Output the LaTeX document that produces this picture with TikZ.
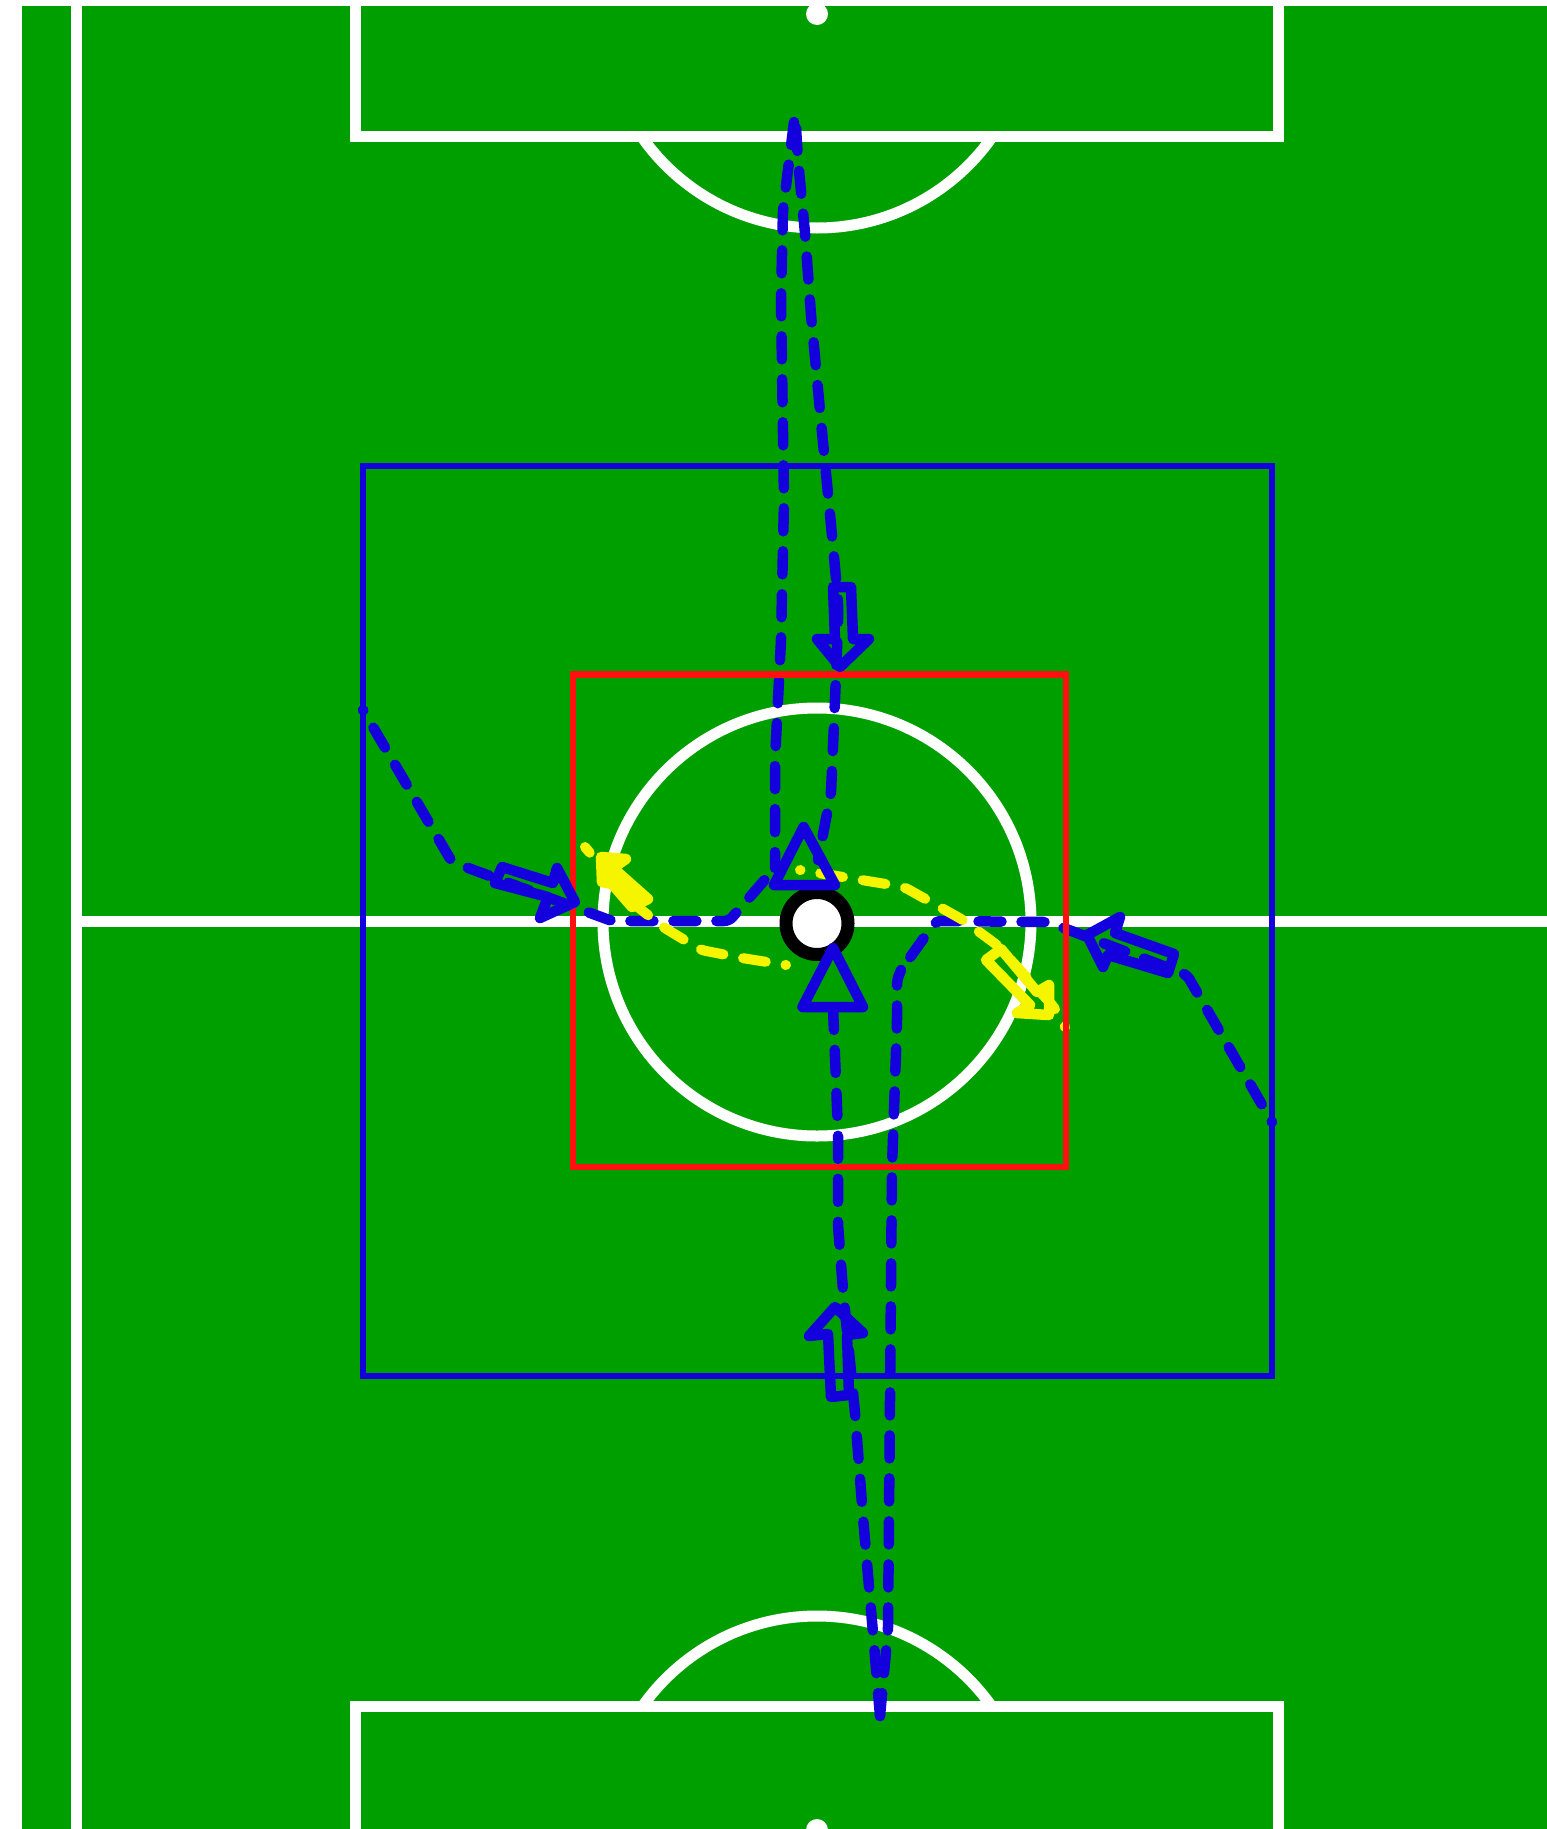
\documentclass[tikz,border=0pt]{standalone}
\definecolor{pitch}{HTML}{009F00}
\definecolor{runblue}{HTML}{1400DC}
\definecolor{runyellow}{HTML}{F5F500}
\definecolor{gridred}{HTML}{FF1010}
\tikzset{
  pitchline/.style={draw=white,line width=11pt,line join=miter},
  run/.style={line width=10.5pt,line cap=round,line join=round,rounded corners=5pt,dash pattern=on 23pt off 20pt},
  fromdot/.style={dash phase=22.5pt},
  bluerun/.style={run,draw=runblue},
  yellowrun/.style={run,fromdot,draw=runyellow,line width=10pt},
  gridbox/.style={line width=6.5pt,line join=miter},
  headtri/.style={draw=runblue,line width=10.5pt,line join=round},
  arrowoutline/.style={line width=10.5pt,line join=round,line cap=round},
}
\begin{document}
\begin{tikzpicture}[x=1pt,y=-1pt]
\useasboundingbox (0,0) rectangle (1547,1829);
\fill[white] (0,0) rectangle (1547,1829);
\begin{scope}
\clip (22,6) rectangle (1547,1829);
\fill[pitch] (22,6) rectangle (1547,1829);
% pitch markings
\draw[pitchline] (76.5,0) -- (76.5,1840);
\draw[pitchline] (76.5,921.5) -- (1550,921.5);
\draw[pitchline] (817,922) circle[radius=214];
\draw[pitchline] (355.5,0) -- (355.5,136) -- (1278,136) -- (1278,0);
\draw[pitchline] (355.5,1840) -- (355.5,1706) -- (1278,1706) -- (1278,1840);
\begin{scope}
\clip (300,136) rectangle (1330,300);
\draw[pitchline] (817,14) circle[radius=214];
\end{scope}
\begin{scope}
\clip (300,1500) rectangle (1330,1706);
\draw[pitchline] (817,1830) circle[radius=214];
\end{scope}
\fill[white] (817,14) circle[radius=11];
\fill[white] (817,1830) circle[radius=11];
% runs
\draw[bluerun,fromdot] (363,710) -- (452,862) -- (612,921) -- (729,921) -- (775,868);
\draw[bluerun] (794,122) -- (783,210) -- (781,300) -- (784,500) -- (781,640) -- (775,760) -- (775,868);
\draw[bluerun] (796,128) -- (798,160) -- (805,233) -- (811,315) -- (822,432) -- (831,525) -- (838,600) -- (838,623) -- (835,700) -- (831,793) -- (818,860);
\draw[bluerun,fromdot] (1272,1122) -- (1187,975) -- (1048,922) -- (936,921) -- (901,970);
\draw[bluerun] (880,1716) -- (888,1630) -- (890,1400) -- (892,1167) -- (897,1023) -- (897,980) -- (901,970);
\draw[bluerun] (880,1716) -- (873,1633) -- (863,1517) -- (855,1413) -- (843,1290) -- (838,1225) -- (838,1132) -- (833,1007);
\draw[yellowrun] (786,965) -- (742,958) -- (701,950) -- (663,927) -- (629,900) -- (585,847);
\draw[yellowrun] (800,870) -- (886,884) -- (904,887) -- (963,920) -- (997,945) -- (1054,1007) -- (1065,1027);
% grid boxes
\draw[gridbox,draw=runblue] (363,466) rectangle (1272,1376);
\draw[gridbox,draw=gridred] (573,674.5) rectangle (1066,1167);
% centre spot
\draw[black,fill=white,line width=13pt] (817,923.5) circle[radius=31];
% triangular heads
\draw[headtri] (803.6,827) -- (835,885) -- (774,885) -- cycle;
\draw[headtri] (833,948) -- (863,1007) -- (802.5,1007) -- cycle;
% block arrows on the runs
\draw[arrowoutline,draw=runblue] (502,867) -- (553,883) -- (557,868) -- (575,902) -- (540,918) -- (548,897) -- (495,883) -- cycle;
\draw[arrowoutline,draw=runblue] (1087,935) -- (1120,917) -- (1115,933) -- (1174,954) -- (1168,973) -- (1108,955) -- (1103,967) -- cycle;
\draw[arrowoutline,draw=runblue] (833,587) -- (851,587) -- (853,639) -- (869,639) -- (840,667) -- (817,639) -- (835,639) -- cycle;
\draw[arrowoutline,draw=runblue] (835,1307) -- (863,1333) -- (847,1335) -- (849,1395) -- (831,1397) -- (828,1334) -- (809,1336) -- cycle;
\draw[arrowoutline,draw=runyellow,fill=runyellow] (601,857) -- (626,859) -- (613,868) -- (648,899) -- (632,907) -- (612,884) -- (602,882) -- cycle;
\draw[arrowoutline,draw=runyellow] (986,960) -- (1001,949) -- (1037,992) -- (1049,985) -- (1049,1015) -- (1017,1013) -- (1030,1005) -- cycle;
\end{scope}
\end{tikzpicture}
\end{document}
